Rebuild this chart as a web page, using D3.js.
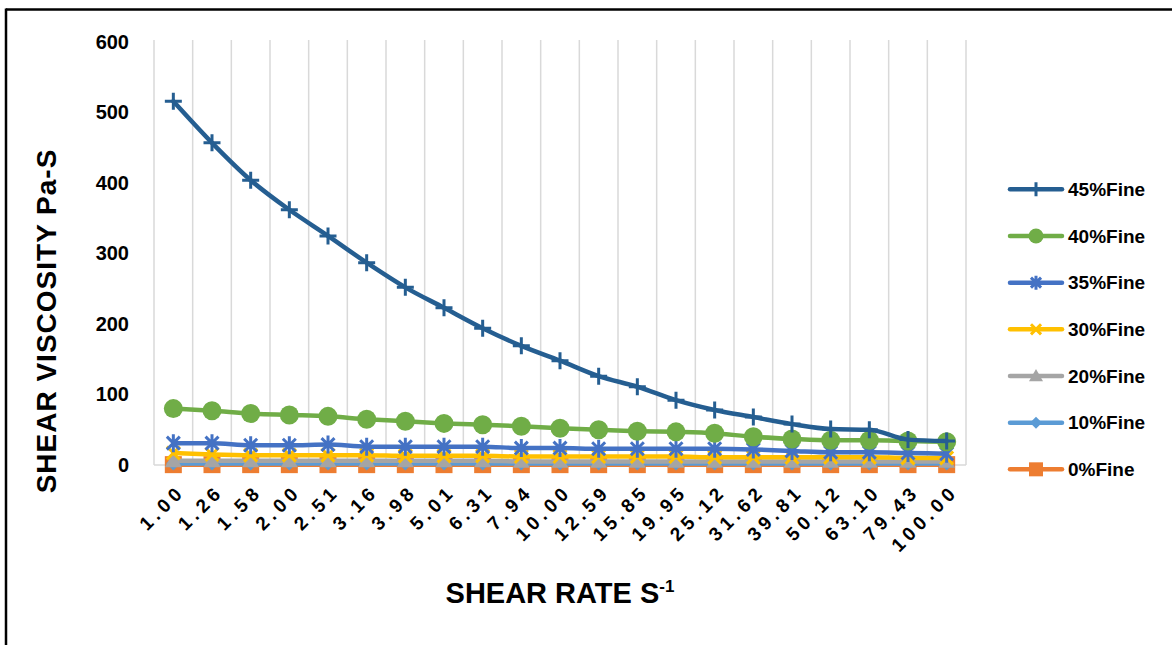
<!DOCTYPE html>
<html><head><meta charset="utf-8">
<script src="https://cdn.jsdelivr.net/npm/d3@7"></script>
<style>
html,body{margin:0;padding:0;background:#fff;}
svg{display:block;}
text{font-family:"Liberation Sans",Arial,sans-serif;font-weight:bold;fill:#000;}
</style></head>
<body>
<svg id="chart" width="1172" height="645"></svg>
<script>
const categories = ["1.00","1.26","1.58","2.00","2.51","3.16","3.98","5.01","6.31","7.94","10.00","12.59","15.85","19.95","25.12","31.62","39.81","50.12","63.10","79.43","100.00"];
const fine45 = [516,457,404,362,325,287,252,223,194,169,148,126,111,92,78,68,58,51,50,36,34];
const fine40 = [80,77,73,71,69,65,62,59,57,55,52,50,48,47,45,40,37,35,35,34,33];
const fine35 = [31,31,28,28,29,26,26,26,26,24,24,23,23,23,23,22,20,18,18,17,16];
const fine30 = [17,15,14,14,14,14,13,13,13,12,12,12,12,12,11,11,11,11,11,10,10];
const fine20 = [6,6,6,6,6,6,6,6,6,5,5,5,5,5,5,5,5,5,5,5,5];
const fine10 = [2,2,2,2,2,2,2,2,2,2,2,2,2,2,2,2,2,2,2,2,2];
const fine0  = [0.5,0.5,0.5,0.5,0.5,0.5,0.5,0.5,0.5,0.5,0.5,0.5,0.5,0.5,0.5,0.5,0.5,0.5,0.5,0.5,0.5];
const seriesNames = ["45%Fine","40%Fine","35%Fine","30%Fine","20%Fine","10%Fine","0%Fine"];
const yTicks = [0,100,200,300,400,500,600];

const series = [
  {name:seriesNames[0], values:fine45, color:"#255E91", marker:"plus"},
  {name:seriesNames[1], values:fine40, color:"#70AD47", marker:"circle"},
  {name:seriesNames[2], values:fine35, color:"#4472C4", marker:"star"},
  {name:seriesNames[3], values:fine30, color:"#FFC000", marker:"x"},
  {name:seriesNames[4], values:fine20, color:"#A5A5A5", marker:"triangle"},
  {name:seriesNames[5], values:fine10, color:"#5B9BD5", marker:"diamond"},
  {name:seriesNames[6], values:fine0,  color:"#ED7D31", marker:"square"}
];

const svg = d3.select("#chart");
// frame
svg.append("line").attr("x1",6).attr("x2",1172).attr("y1",9.5).attr("y2",9.5).attr("stroke","#000").attr("stroke-width",2.5);
svg.append("line").attr("x1",6).attr("x2",6).attr("y1",8.5).attr("y2",645).attr("stroke","#000").attr("stroke-width",2.5);

const L=154, R=966, T=42, B=465;
const x = d3.scaleBand().domain(categories).range([L,R]);
const y = d3.scaleLinear().domain([0,600]).range([B,T]);

// vertical gridlines at band edges
const edges = categories.map(c=>x(c)).concat([R]);
svg.append("g").selectAll("line").data(edges).join("line")
  .attr("x1",d=>d).attr("x2",d=>d).attr("y1",y(600)-2).attr("y2",B)
  .attr("stroke","#d9d9d9").attr("stroke-width",1.5);
svg.append("line").attr("x1",L).attr("x2",R).attr("y1",B).attr("y2",B).attr("stroke","#d9d9d9").attr("stroke-width",1.5);

// y axis labels
const yAxis = d3.axisLeft(y).tickValues(yTicks).tickSize(0).tickPadding(0);
const gy = svg.append("g").attr("transform",`translate(129,0)`).call(yAxis);
gy.select(".domain").remove();
gy.selectAll("text").style("font-size","20px").style("font-family","'Liberation Sans',Arial,sans-serif").style("font-weight","bold").attr("fill","#000");

// x axis labels
const xAxis = d3.axisBottom(x).tickSize(0).tickPadding(0);
const gx = svg.append("g").attr("transform",`translate(0,${B})`).call(xAxis);
gx.select(".domain").remove();
gx.selectAll("text")
  .style("font-size","19px").style("font-family","'Liberation Sans',Arial,sans-serif").style("font-weight","bold")
  .style("letter-spacing","4.5px")
  .attr("fill","#000")
  .attr("text-anchor","end")
  .attr("dy","0.35em").attr("y",0)
  .attr("transform","translate(8,23) rotate(-45)");

// titles
svg.append("text").attr("x",560).attr("y",603).attr("text-anchor","middle")
  .style("font-size","29px")
  .text("SHEAR RATE S").append("tspan").attr("dy","-11").style("font-size","17px").text("-1");
svg.append("text").attr("transform","translate(56,321) rotate(-90)").attr("text-anchor","middle")
  .style("font-size","28px").style("letter-spacing","1px")
  .text("SHEAR VISCOSITY Pa-S");

function drawMarker(g, type, cx, cy, color, s){
  if(type==="plus"){
    g.append("path").attr("d",`M${cx-s},${cy}H${cx+s}M${cx},${cy-s}V${cy+s}`).attr("stroke",color).attr("stroke-width",3).attr("fill","none");
  } else if(type==="circle"){
    g.append("circle").attr("cx",cx).attr("cy",cy).attr("r",s).attr("fill",color);
  } else if(type==="star"){
    const d=s*0.72;
    g.append("path").attr("d",`M${cx-d},${cy-d}L${cx+d},${cy+d}M${cx-d},${cy+d}L${cx+d},${cy-d}M${cx},${cy-s}V${cy+s}`).attr("stroke",color).attr("stroke-width",3).attr("fill","none");
  } else if(type==="x"){
    const d=s*0.72;
    g.append("path").attr("d",`M${cx-d},${cy-d}L${cx+d},${cy+d}M${cx-d},${cy+d}L${cx+d},${cy-d}`).attr("stroke",color).attr("stroke-width",3).attr("fill","none");
  } else if(type==="triangle"){
    g.append("path").attr("d",`M${cx},${cy-s}L${cx+s},${cy+s*0.75}L${cx-s},${cy+s*0.75}Z`).attr("fill",color);
  } else if(type==="diamond"){
    g.append("path").attr("d",`M${cx},${cy-s}L${cx+s},${cy}L${cx},${cy+s}L${cx-s},${cy}Z`).attr("fill",color);
  } else if(type==="square"){
    g.append("rect").attr("x",cx-s).attr("y",cy-s).attr("width",2*s).attr("height",2*s).attr("fill",color);
  }
}
const markerSize = {plus:8.5, circle:9.5, star:9, x:9, triangle:8.5, diamond:7, square:8.5};
const legendSize = {plus:7, circle:7.5, star:7, x:7, triangle:7, diamond:6, square:7};

const line = d3.line().x((d,i)=>x(categories[i])+x.bandwidth()/2).y(d=>y(d)).curve(d3.curveMonotoneX);
const plotG = svg.append("g");
series.slice().reverse().forEach(s=>{
  const g = plotG.append("g");
  g.append("path").datum(s.values).attr("d",line).attr("fill","none").attr("stroke",s.color).attr("stroke-width",4.5).attr("stroke-linejoin","round").attr("stroke-linecap","round");
  s.values.forEach((v,i)=>drawMarker(g,s.marker,x(categories[i])+x.bandwidth()/2,y(v),s.color,markerSize[s.marker]));
});

// legend
const lg = svg.append("g");
series.forEach((s,i)=>{
  const cy = 189.3 + i*46.67;
  const g = lg.append("g");
  g.append("line").attr("x1",1010).attr("x2",1062).attr("y1",cy).attr("y2",cy).attr("stroke",s.color).attr("stroke-width",4.5).attr("stroke-linecap","round");
  drawMarker(g,s.marker,1036,cy,s.color,legendSize[s.marker]);
  g.append("text").attr("x",1068).attr("y",cy).attr("dy","0.36em").style("font-size","19px").text(s.name);
});
</script>
</body></html>
